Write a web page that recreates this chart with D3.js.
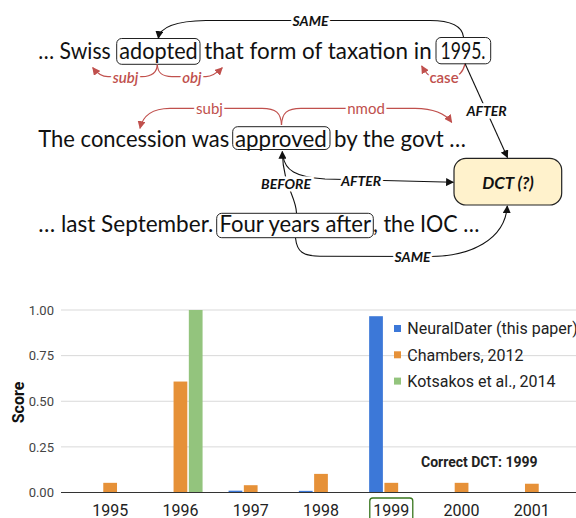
<!DOCTYPE html>
<html>
<head>
<meta charset="utf-8">
<script src="https://cdn.jsdelivr.net/npm/d3@7/dist/d3.min.js"></script>
<style>
  body { margin: 0; background: #fff; }
  svg { display: block; }
</style>
</head>
<body>
<script>
// chart data
var years = ["1995", "1996", "1997", "1998", "1999", "2000", "2001"];
var seriesNames = ["NeuralDater (this paper)", "Chambers, 2012", "Kotsakos et al., 2014"];
var neuralDater = [0, 0.003, 0.01, 0.009, 0.966, 0, 0.003];
var chambers = [0.053, 0.608, 0.04, 0.102, 0.053, 0.053, 0.048];
var kotsakos = [0, 1.0, 0, 0, 0, 0, 0];
var yTicks = [0, 0.25, 0.5, 0.75, 1];
var colors = ["#3c78d8", "#e69138", "#93c47d"];

var w = 576, h = 518;
var red = "#c0504d";

var svg = d3.select("body").append("svg")
  .attr("width", w)
  .attr("height", h);

// arrow markers
var defs = svg.append("defs");
function marker(id, col) {
  defs.append("marker")
    .attr("id", id)
    .attr("viewBox", "0 0 10 10")
    .attr("refX", 9).attr("refY", 5)
    .attr("markerWidth", 8).attr("markerHeight", 8)
    .attr("markerUnits", "userSpaceOnUse")
    .attr("orient", "auto")
    .append("path")
    .attr("d", "M0,0 L10,5 L0,10 z")
    .attr("fill", col);
}
marker("arrowK", "#111");
marker("arrowR", red);

/* ---------- top: sentence diagram ---------- */
var diag = svg.append("g").attr("class", "diagram");
var serif = "Lato, 'Open Sans', sans-serif";

// text segments: [text, x start, width, baseline]
var segments = [
  ["\u2026 Swiss", 38.3, 72.4, 58.5],
  ["adopted", 119.3, 78.4, 58.5],
  ["that form of taxation in", 204.3, 227.4, 58.5],
  ["1995.", 440.5, 45, 58.5],
  ["The concession was", 38.3, 191, 146.5],
  ["approved", 235, 91.7, 146.5],
  ["by the govt \u2026", 334, 132, 146.5],
  ["\u2026 last September.", 38.3, 175, 231.7],
  ["Four years after", 219.5, 151.5, 231.7],
  [", the IOC \u2026", 373, 106.3, 231.7]
];
diag.selectAll(".seg")
  .data(segments)
  .enter().append("text")
  .classed("seg", true)
  .attr("x", function(d){ return d[1]; })
  .attr("y", function(d){ return d[3]; })
  .attr("textLength", function(d){ return d[2]; })
  .attr("lengthAdjust", "spacingAndGlyphs")
  .style("font-family", serif)
  .style("font-size", "24px")
  .attr("fill", "#111")
  .text(function(d){ return d[0]; });

// rounded boxes round the key words [x0, y0, x1, y1]
var boxes = [
  [116.7, 38.5, 200, 64.3],
  [436, 37.5, 490.7, 63.8],
  [232.7, 126.7, 330, 149.5],
  [216.7, 213.3, 373.3, 237.7]
];
diag.selectAll(".wbox")
  .data(boxes)
  .enter().append("rect")
  .classed("wbox", true)
  .attr("x", function(d){ return d[0]; })
  .attr("y", function(d){ return d[1]; })
  .attr("width", function(d){ return d[2] - d[0]; })
  .attr("height", function(d){ return d[3] - d[1]; })
  .attr("rx", 5)
  .attr("fill", "none")
  .attr("stroke", "#222")
  .attr("stroke-width", 1);

// DCT box
diag.append("rect")
  .attr("x", 454).attr("y", 158.3)
  .attr("width", 107.7).attr("height", 46.7)
  .attr("rx", 12)
  .attr("fill", "#fff2cc")
  .attr("stroke", "#222")
  .attr("stroke-width", 1.2);
diag.append("text")
  .attr("x", 508).attr("y", 188.5)
  .attr("text-anchor", "middle")
  .style("font-family", serif)
  .style("font-size", "17px")
  .style("font-weight", "bold")
  .style("font-style", "italic")
  .attr("fill", "#111")
  .text("DCT (?)");

// dependency arcs (red)
var redArcs = [
  "M157.3,64.5 C157,73 152,76.5 142,76.7 L108,76.7 C101,76.7 96,72 92.7,67.7",
  "M157.3,64.5 C157.6,73 162,76.5 172,76.7 L206,76.7 C213,76.7 218,72 222.3,67.7",
  "M465,64 C463,72 459,76.7 452,77 L432,77 C428,76 424,70 421.7,66",
  "M281.5,125 C281,113 276,108.3 262,108.3 L170,108.3 C152,108.5 143,115 140,128.3",
  "M281.5,125 C282,113 287,108.3 301,108.3 L415,108.3 C433,108.5 445,113 451.7,122.3"
];
diag.selectAll(".rarc")
  .data(redArcs)
  .enter().append("path")
  .classed("rarc", true)
  .attr("d", function(d){ return d; })
  .attr("fill", "none")
  .attr("stroke", red)
  .attr("stroke-width", 1.2)
  .attr("marker-end", "url(#arrowR)");

// temporal edges (black)
var blackArcs = [
  "M463.5,37 C462,25 450,20.5 430,20.5 L206,20.5 C175,21 160,27 158.3,38.3",
  "M465,63.5 L507.5,157.5",
  "M296.5,213 C296,196 283,186 282.3,151.5",
  "M283,156 C285,170 295,177 325,179 L453.3,182.3",
  "M295.5,238 C297,252 303,256 320,256.3 L430,256.5 C470,256.5 505,240 507.3,206"
];
diag.selectAll(".karc")
  .data(blackArcs)
  .enter().append("path")
  .classed("karc", true)
  .attr("d", function(d){ return d; })
  .attr("fill", "none")
  .attr("stroke", "#111")
  .attr("stroke-width", 1.1)
  .attr("marker-end", "url(#arrowK)");

// edge labels [text, x, y, colour, weight, style, size]
var edgeLabels = [
  ["subj", 125.5, 83, red, 600, "italic", 15],
  ["obj", 192, 83, red, 600, "italic", 15],
  ["case", 444, 83, red, 600, "normal", 15],
  ["subj", 209.5, 113.5, red, 400, "normal", 15],
  ["nmod", 366, 113.5, red, 400, "normal", 15],
  ["SAME", 310.5, 25.5, "#111", 700, "italic", 14],
  ["AFTER", 486.5, 116, "#111", 700, "italic", 14],
  ["BEFORE", 286, 189, "#111", 700, "italic", 14],
  ["AFTER", 361, 186, "#111", 700, "italic", 14],
  ["SAME", 412.5, 261.5, "#111", 700, "italic", 14]
];
diag.selectAll(".elab")
  .data(edgeLabels)
  .enter().append("text")
  .classed("elab", true)
  .attr("x", function(d){ return d[1]; })
  .attr("y", function(d){ return d[2]; })
  .attr("text-anchor", "middle")
  .style("font-family", serif)
  .style("font-size", function(d){ return d[6] + "px"; })
  .style("font-weight", function(d){ return d[4]; })
  .style("font-style", function(d){ return d[5]; })
  .attr("fill", function(d){ return d[3]; })
  .attr("stroke", "#fff")
  .attr("stroke-width", 5)
  .style("paint-order", "stroke")
  .text(function(d){ return d[0]; });

/* ---------- bottom: bar chart ---------- */
var left = 61, right = 576;
var values = [neuralDater, chambers, kotsakos];

var x0 = d3.scaleBand()
  .domain(years)
  .range([75, 567])
  .paddingInner(0.37)
  .paddingOuter(0.185);
var x1 = d3.scaleBand()
  .domain(seriesNames)
  .range([0, x0.bandwidth()])
  .paddingInner(0.1);
var y = d3.scaleLinear()
  .domain([0, 1])
  .range([492.5, 310]);

var chart = svg.append("g").attr("class", "chart");
var font = "Roboto, sans-serif";

// grid lines
chart.selectAll(".grid")
  .data(yTicks.filter(function(d){ return d > 0; }))
  .enter().append("line")
  .classed("grid", true)
  .attr("x1", left).attr("x2", right)
  .attr("y1", function(d){ return y(d); })
  .attr("y2", function(d){ return y(d); })
  .attr("stroke", "#d9d9d9")
  .attr("stroke-width", 1);

// y axis labels
var yAxis = chart.append("g")
  .attr("transform", "translate(" + left + ",0)")
  .call(d3.axisLeft(y).tickValues(yTicks).tickFormat(d3.format(".2f")).tickSize(0).tickPadding(7));
yAxis.select(".domain").remove();
yAxis.selectAll("text")
  .style("font-family", font)
  .style("font-size", "13px")
  .attr("fill", "#444");

// bars
var barData = [];
years.forEach(function(yr, i){
  seriesNames.forEach(function(s, j){
    barData.push({year: yr, series: s, value: values[j][i], color: colors[j]});
  });
});
chart.selectAll(".bar")
  .data(barData)
  .enter().append("rect")
  .classed("bar", true)
  .attr("x", function(d){ return x0(d.year) + x1(d.series); })
  .attr("y", function(d){ return y(d.value); })
  .attr("width", x1.bandwidth())
  .attr("height", function(d){ return y(0) - y(d.value); })
  .attr("fill", function(d){ return d.color; });

// baseline
chart.append("line")
  .attr("x1", left).attr("x2", right)
  .attr("y1", y(0)).attr("y2", y(0))
  .attr("stroke", "#333")
  .attr("stroke-width", 1);

// x axis labels
var xAxis = chart.append("g")
  .attr("transform", "translate(0," + y(0) + ")")
  .call(d3.axisBottom(x0).tickSize(0).tickPadding(12.6));
xAxis.select(".domain").remove();
xAxis.selectAll("text")
  .style("font-family", font)
  .style("font-size", "16px")
  .attr("fill", "#222");

// green box round the correct year
var cx = x0("1999") + x0.bandwidth() / 2;
chart.append("rect")
  .attr("x", cx - 21.5).attr("y", 498)
  .attr("width", 43).attr("height", 26)
  .attr("rx", 3)
  .attr("fill", "none")
  .attr("stroke", "#38761d")
  .attr("stroke-width", 1.3);

// axis title
chart.append("text")
  .attr("transform", "translate(24,402.5) rotate(-90)")
  .attr("text-anchor", "middle")
  .style("font-family", font)
  .style("font-size", "16px")
  .style("font-weight", "bold")
  .attr("fill", "#111")
  .text("Score");

// legend
var legend = chart.selectAll(".legend")
  .data(seriesNames)
  .enter().append("g")
  .classed("legend", true)
  .attr("transform", function(d, i){ return "translate(394," + (328.5 + i * 26.3) + ")"; });
legend.append("rect")
  .attr("x", 0).attr("y", -3.5)
  .attr("width", 7).attr("height", 7)
  .attr("fill", function(d, i){ return colors[i]; });
legend.append("text")
  .attr("x", 13.3).attr("y", 5.7)
  .style("font-family", font)
  .style("font-size", "16px")
  .attr("fill", "#222")
  .text(function(d){ return d; });

// annotation
chart.append("text")
  .attr("x", 421).attr("y", 467.3)
  .style("font-family", font)
  .style("font-size", "14px")
  .style("font-weight", "bold")
  .attr("fill", "#222")
  .text("Correct DCT: 1999");
</script>
</body>
</html>
